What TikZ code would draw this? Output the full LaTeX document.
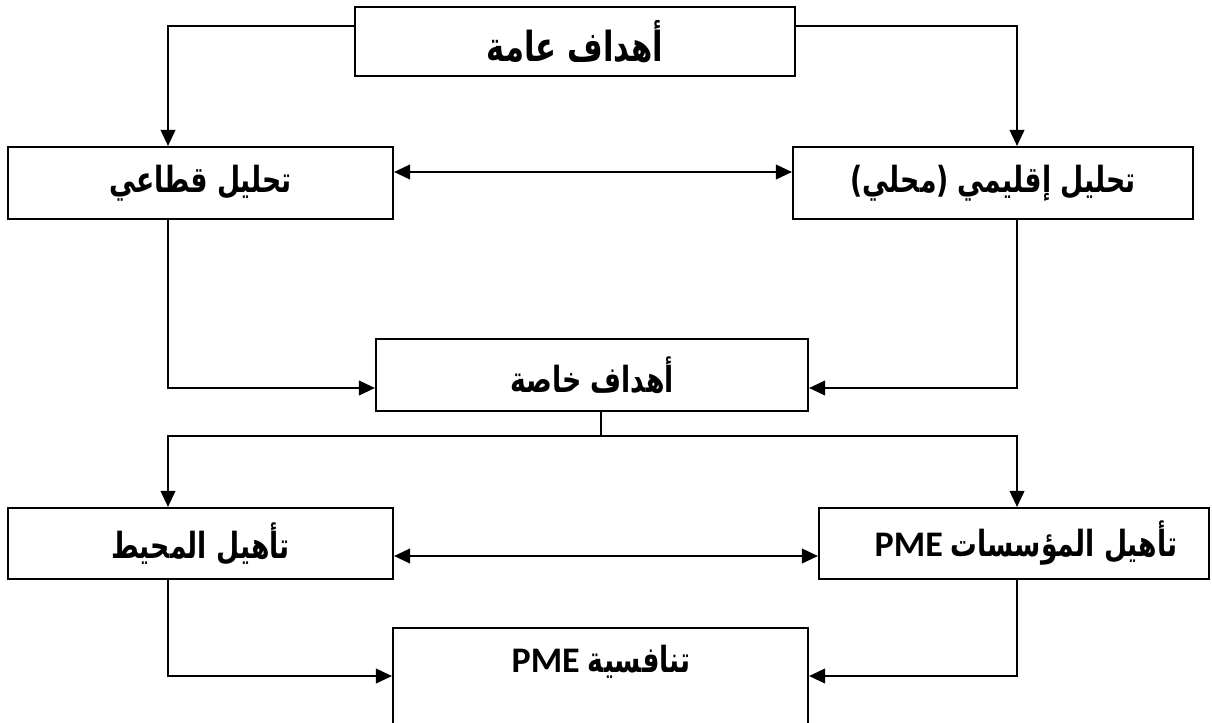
\documentclass[tikz,border=0pt]{standalone}
\usepackage{fontspec}
\usepackage{graphicx}
\usetikzlibrary{arrows.meta,calc}
\TeXXeTstate=1
\newfontfamily\arabicfont[Script=Arabic]{DejaVu Sans}
\newfontfamily\latfont{Carlito}
\newcommand{\ar}[1]{\scalebox{1}[1.35]{\arabicfont\bfseries\beginR #1\endR}}
\newcommand{\arpme}[1]{{\latfont\bfseries\fontsize{27}{31}\selectfont PME}\ \ar{#1}}
\tikzset{
  box/.style={draw, line width=1.6pt, rectangle, inner sep=0pt, font=\fontsize{20}{24}\selectfont},
  conn/.style={line width=1.4pt},
  arr/.style={conn, -{Triangle[length=12pt,width=11pt]}},
  darr/.style={conn, {Triangle[length=12pt,width=11pt]}-{Triangle[length=12pt,width=11pt]}},
}
\begin{document}
\begin{tikzpicture}[x=0.75pt,y=-0.75pt]
\useasboundingbox (0,0) rectangle (1212,722);
\clip (0,0) rectangle (1212,722);
\fill[white] (0,0) rectangle (1212,722);
% boxes
\node[box, minimum width=330pt, minimum height=51.75pt, font=\fontsize{23}{27}\selectfont] (top) at (575,41.5) {\ar{أهداف عامة}};
\node[box, minimum width=288.75pt, minimum height=54pt] (left) at (200.5,183) {\ar{تحليل قطاعي}};
\node[box, minimum width=300pt, minimum height=54pt] (right) at (993,183) {\ar{تحليل إقليمي (محلي)}};
\node[box, minimum width=324pt, minimum height=54pt] (mid) at (592,375) {\ar{أهداف خاصة}};
\node[box, minimum width=288.75pt, minimum height=53.25pt] (ll) at (200.5,543.5) {\ar{تأهيل المحيط}};
\node[box, minimum width=292.5pt, minimum height=53.25pt] (lr) at (1014,543.5) {\hspace*{18pt}\arpme{تأهيل المؤسسات}};
\node[box, minimum width=311.25pt, minimum height=99pt] (comp) at (600.5,694) {};
\node[font=\fontsize{20}{24}\selectfont] (comptxt) at (601,662) {\arpme{تنافسية}};
% helper coordinates
\coordinate (tl) at (168,26);
\coordinate (tr) at (1017,26);
\coordinate (h1) at (600,172);
\coordinate (m1) at (600,388);
\coordinate (j) at (601,436);
\coordinate (h2) at (600,556);
\coordinate (b1) at (600,676);
% connectors
\draw[arr] (top.west |- tl) -- (tl) -- (tl |- left.north);
\draw[arr] (top.east |- tr) -- (tr) -- (tr |- right.north);
\draw[darr] (left.east |- h1) -- (right.west |- h1);
\draw[arr] (tl |- left.south) -- (tl |- m1) -- (mid.west |- m1);
\draw[arr] (tr |- right.south) -- (tr |- m1) -- (mid.east |- m1);
\draw[conn] (mid.south -| j) -- (j);
\draw[arr] (j) -- (tl |- j) -- (tl |- ll.north);
\draw[arr] (j) -- (tr |- j) -- (tr |- lr.north);
\draw[darr] (ll.east |- h2) -- (lr.west |- h2);
\draw[arr] (tl |- ll.south) -- (tl |- b1) -- (comp.west |- b1);
\draw[arr] (tr |- lr.south) -- (tr |- b1) -- (comp.east |- b1);
\end{tikzpicture}
\end{document}
